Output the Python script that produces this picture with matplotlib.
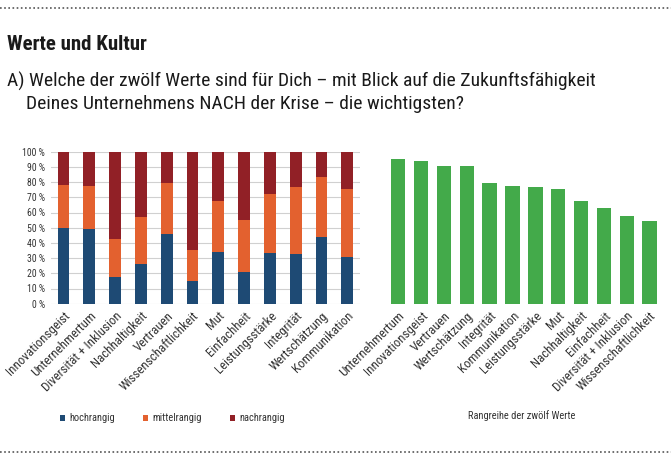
import matplotlib.pyplot as plt
from matplotlib.lines import Line2D
import numpy as np

plt.rcParams['font.family'] = ['Roboto Condensed', 'DejaVu Sans']

# linke Grafik: Werte mit Rangverteilung (Anteile in %)
werte = ['Innovationsgeist', 'Unternehmertum', 'Diversität + Inklusion', 'Nachhaltigkeit',
         'Vertrauen', 'Wissenschaftlichkeit', 'Mut', 'Einfachheit', 'Leistungsstärke',
         'Integrität', 'Wertschätzung', 'Kommunikation']
hochrangig = [49.5, 48.9, 17.8, 26.3, 45.6, 14.7, 34.0, 21.1, 33.1, 32.7, 43.6, 30.5]
mittelrangig = [28.8, 28.7, 24.7, 30.9, 34.0, 20.8, 33.5, 34.2, 39.3, 44.3, 39.7, 45.2]
nachrangig = [100 - h - m for h, m in zip(hochrangig, mittelrangig)]

# rechte Grafik: Rangreihe
rang_werte = ['Unternehmertum', 'Innovationsgeist', 'Vertrauen', 'Wertschätzung', 'Integrität',
              'Kommunikation', 'Leistungsstärke', 'Mut', 'Nachhaltigkeit', 'Einfachheit',
              'Diversität + Inklusion', 'Wissenschaftlichkeit']
rang_score = [95.2, 93.9, 90.6, 90.4, 79.6, 77.6, 77.0, 75.7, 67.3, 63.2, 57.7, 54.6]

blau = '#1e4a74'
orange = '#e3612f'
rot = '#912026'
gruen = '#43aa4a'
W, H = 671, 462

def box(x0, y_top, x1, y_bot):
    return [x0 / W, 1 - y_bot / H, (x1 - x0) / W, (y_bot - y_top) / H]

fig = plt.figure(figsize=(W / 100, H / 100), dpi=100)

# gepunktete Linien oben und unten
for y in (8, 452):
    fig.add_artist(Line2D([0, 1], [1 - y / H, 1 - y / H], transform=fig.transFigure,
                          color='#555555', lw=1.2, ls=(0, (1, 1.5))))

fig.text(7 / W, 1 - 45 / H, 'Werte und Kultur', fontsize=15, fontweight='bold',
         color='#1a1a1a', va='center')
fig.text(7 / W, 1 - 81 / H, 'A) Welche der zwölf Werte sind für Dich – mit Blick auf die Zukunftsfähigkeit',
         fontsize=14, color='#1a1a1a', va='center')
fig.text(26 / W, 1 - 104 / H, 'Deines Unternehmens NACH der Krise – die wichtigsten?',
         fontsize=14, color='#1a1a1a', va='center')

x = np.arange(len(werte))

# linke Grafik
ax = fig.add_axes(box(50.6, 151.7, 360.2, 303.7))
ax.bar(x, hochrangig, width=0.45, color=blau, label='hochrangig', zorder=3)
ax.bar(x, mittelrangig, width=0.45, bottom=hochrangig, color=orange, label='mittelrangig', zorder=3)
unten = [h + m for h, m in zip(hochrangig, mittelrangig)]
ax.bar(x, nachrangig, width=0.45, bottom=unten, color=rot, label='nachrangig', zorder=3)
ax.set_xlim(-0.5, 11.5)
ax.set_ylim(0, 100)
ax.set_yticks(range(0, 101, 10))
ax.set_yticklabels([f'{v} %' for v in range(0, 101, 10)], fontsize=7, color='#333333')
ax.yaxis.grid(True, color='#d0d0d0', lw=0.8, zorder=0)
for s in ax.spines.values():
    s.set_visible(False)
ax.tick_params(length=0, pad=4)
ax.set_xticks(x)
ax.set_xticklabels(werte, rotation=45, ha='right', rotation_mode='anchor',
                   fontsize=9.3, color='#333333')
ax.legend(loc='upper left', bbox_to_anchor=(0.0, -0.66), ncol=3, frameon=False,
          fontsize=7.5, handlelength=0.5, handleheight=0.5, columnspacing=2.7,
          handletextpad=0.4, labelcolor='#333333')

# rechte Grafik
ax2 = fig.add_axes(box(386.8, 151.7, 661.0, 303.7))
ax2.bar(x, rang_score, width=0.63, color=gruen, zorder=3)
ax2.set_xlim(-0.5, 11.5)
ax2.set_ylim(0, 100)
ax2.set_yticks([])
for s in ax2.spines.values():
    s.set_visible(False)
ax2.tick_params(length=0, pad=4)
ax2.set_xticks(x)
ax2.set_xticklabels(rang_werte, rotation=45, ha='right', rotation_mode='anchor',
                    fontsize=9.3, color='#333333')
fig.text(522 / W, 1 - 416 / H, 'Rangreihe der zwölf Werte', fontsize=7.5,
         color='#333333', ha='center', va='center')

fig.savefig('out.png', dpi=100)
